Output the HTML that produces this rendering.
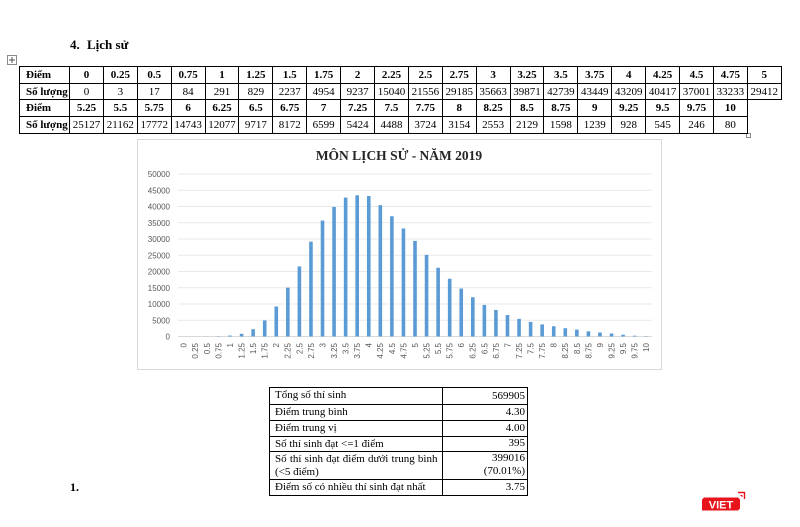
<!DOCTYPE html>
<html>
<head>
<meta charset="utf-8">
<style>
  html,body{margin:0;padding:0;background:#fff;}
  body{width:800px;height:527px;position:relative;overflow:hidden;font-family:"Liberation Serif",serif;color:#000;}
  .h{position:absolute;top:35px;font:bold 13px "Liberation Serif",serif;line-height:20px;white-space:nowrap;}
  .t1{position:absolute;left:19px;top:66px;border-collapse:collapse;table-layout:fixed;width:762px;font:11px "Liberation Serif",serif;}
  .t1 td{border:1px solid #000;padding:0;text-align:center;line-height:14px;white-space:nowrap;overflow:hidden;}
  .t1 tr{height:16.7px;}
  .t1 td.l{text-align:left;padding-left:6px;font-weight:bold;}
  .t1 tr.b td{font-weight:bold;}
  .t1 td.e{border:none;}
  .t2{position:absolute;left:269px;top:387px;border-collapse:collapse;table-layout:fixed;width:258px;font:11px "Liberation Serif",serif;}
  .t2 td{border:1px solid #000;padding:0;line-height:13px;white-space:nowrap;}
  .t2 td.a{padding-left:5px;vertical-align:top;padding-top:1px;}
  .t2 td.v{text-align:right;padding-right:2px;vertical-align:bottom;padding-bottom:1px;}
  .j{text-align:justify;text-align-last:justify;padding-right:4px;}
  svg{position:absolute;left:0;top:0;}
</style>
</head>
<body>
<svg width="800" height="527" viewBox="0 0 800 527" xmlns="http://www.w3.org/2000/svg">
  <!-- move icon -->
  <rect x="7.5" y="55.5" width="9" height="9" fill="#fff" stroke="#8a8a8a" stroke-width="1"/>
  <path d="M12 57 V63 M9 60 H15" stroke="#555" stroke-width="1"/>
  <!-- resize handle -->
  <rect x="746.5" y="133.5" width="4" height="4" fill="#fff" stroke="#8a8a8a" stroke-width="1"/>

  <!-- chart box -->
  <rect x="137.5" y="139.5" width="524" height="230" fill="#fff" stroke="#d9d9d9" stroke-width="1"/>
  <text x="399" y="160" text-anchor="middle" font-family="Liberation Serif, serif" font-weight="bold" font-size="13.5" fill="#262626">MÔN LỊCH SỬ - NĂM 2019</text>

  <!-- gridlines -->
  <g stroke="#e9e9e9" stroke-width="1">
    <line x1="178" y1="174" x2="652" y2="174"/>
    <line x1="178" y1="190.25" x2="652" y2="190.25"/>
    <line x1="178" y1="206.5" x2="652" y2="206.5"/>
    <line x1="178" y1="222.75" x2="652" y2="222.75"/>
    <line x1="178" y1="239" x2="652" y2="239"/>
    <line x1="178" y1="255.25" x2="652" y2="255.25"/>
    <line x1="178" y1="271.5" x2="652" y2="271.5"/>
    <line x1="178" y1="287.75" x2="652" y2="287.75"/>
    <line x1="178" y1="304" x2="652" y2="304"/>
    <line x1="178" y1="320.25" x2="652" y2="320.25"/>
  </g>
  <line x1="178" y1="336.5" x2="652" y2="336.5" stroke="#d9d9d9" stroke-width="1"/>

  <!-- y labels -->
  <g font-family="Liberation Sans, sans-serif" font-size="8" fill="#595959" text-anchor="end">
    <text x="170" y="177">50000</text>
    <text x="170" y="193.25">45000</text>
    <text x="170" y="209.5">40000</text>
    <text x="170" y="225.75">35000</text>
    <text x="170" y="242">30000</text>
    <text x="170" y="258.25">25000</text>
    <text x="170" y="274.5">20000</text>
    <text x="170" y="290.75">15000</text>
    <text x="170" y="307">10000</text>
    <text x="170" y="323.25">5000</text>
    <text x="170" y="339.5">0</text>
  </g>

  <!-- bars -->
  <g transform="translate(0,336.5) scale(1,-1)" fill="#5b9bd5">
    <rect x="193.54" y="0" width="3.6" height="0.01"/>
    <rect x="205.10" y="0" width="3.6" height="0.06"/>
    <rect x="216.66" y="0" width="3.6" height="0.27"/>
    <rect x="228.22" y="0" width="3.6" height="0.95"/>
    <rect x="239.79" y="0" width="3.6" height="2.69"/>
    <rect x="251.35" y="0" width="3.6" height="7.27"/>
    <rect x="262.91" y="0" width="3.6" height="16.10"/>
    <rect x="274.47" y="0" width="3.6" height="30.02"/>
    <rect x="286.03" y="0" width="3.6" height="48.88"/>
    <rect x="297.59" y="0" width="3.6" height="70.06"/>
    <rect x="309.15" y="0" width="3.6" height="94.85"/>
    <rect x="320.71" y="0" width="3.6" height="115.90"/>
    <rect x="332.27" y="0" width="3.6" height="129.58"/>
    <rect x="343.83" y="0" width="3.6" height="138.90"/>
    <rect x="355.40" y="0" width="3.6" height="141.21"/>
    <rect x="366.96" y="0" width="3.6" height="140.43"/>
    <rect x="378.52" y="0" width="3.6" height="131.36"/>
    <rect x="390.08" y="0" width="3.6" height="120.25"/>
    <rect x="401.64" y="0" width="3.6" height="108.01"/>
    <rect x="413.20" y="0" width="3.6" height="95.59"/>
    <rect x="424.76" y="0" width="3.6" height="81.66"/>
    <rect x="436.32" y="0" width="3.6" height="68.78"/>
    <rect x="447.88" y="0" width="3.6" height="57.76"/>
    <rect x="459.44" y="0" width="3.6" height="47.91"/>
    <rect x="471.01" y="0" width="3.6" height="39.25"/>
    <rect x="482.57" y="0" width="3.6" height="31.58"/>
    <rect x="494.13" y="0" width="3.6" height="26.56"/>
    <rect x="505.69" y="0" width="3.6" height="21.45"/>
    <rect x="517.25" y="0" width="3.6" height="17.63"/>
    <rect x="528.81" y="0" width="3.6" height="14.59"/>
    <rect x="540.37" y="0" width="3.6" height="12.10"/>
    <rect x="551.93" y="0" width="3.6" height="10.25"/>
    <rect x="563.49" y="0" width="3.6" height="8.30"/>
    <rect x="575.05" y="0" width="3.6" height="6.92"/>
    <rect x="586.62" y="0" width="3.6" height="5.19"/>
    <rect x="598.18" y="0" width="3.6" height="4.03"/>
    <rect x="609.74" y="0" width="3.6" height="3.02"/>
    <rect x="621.30" y="0" width="3.6" height="1.77"/>
    <rect x="632.86" y="0" width="3.6" height="0.80"/>
    <rect x="644.42" y="0" width="3.6" height="0.26"/>
  </g>

  <!-- x labels -->
  <g font-family="Liberation Sans, sans-serif" font-size="8" fill="#595959" text-anchor="end">
    <text transform="translate(186.68,343) rotate(-90)">0</text>
    <text transform="translate(198.24,343) rotate(-90)">0.25</text>
    <text transform="translate(209.80,343) rotate(-90)">0.5</text>
    <text transform="translate(221.36,343) rotate(-90)">0.75</text>
    <text transform="translate(232.92,343) rotate(-90)">1</text>
    <text transform="translate(244.49,343) rotate(-90)">1.25</text>
    <text transform="translate(256.05,343) rotate(-90)">1.5</text>
    <text transform="translate(267.61,343) rotate(-90)">1.75</text>
    <text transform="translate(279.17,343) rotate(-90)">2</text>
    <text transform="translate(290.73,343) rotate(-90)">2.25</text>
    <text transform="translate(302.29,343) rotate(-90)">2.5</text>
    <text transform="translate(313.85,343) rotate(-90)">2.75</text>
    <text transform="translate(325.41,343) rotate(-90)">3</text>
    <text transform="translate(336.97,343) rotate(-90)">3.25</text>
    <text transform="translate(348.53,343) rotate(-90)">3.5</text>
    <text transform="translate(360.10,343) rotate(-90)">3.75</text>
    <text transform="translate(371.66,343) rotate(-90)">4</text>
    <text transform="translate(383.22,343) rotate(-90)">4.25</text>
    <text transform="translate(394.78,343) rotate(-90)">4.5</text>
    <text transform="translate(406.34,343) rotate(-90)">4.75</text>
    <text transform="translate(417.90,343) rotate(-90)">5</text>
    <text transform="translate(429.46,343) rotate(-90)">5.25</text>
    <text transform="translate(441.02,343) rotate(-90)">5.5</text>
    <text transform="translate(452.58,343) rotate(-90)">5.75</text>
    <text transform="translate(464.14,343) rotate(-90)">6</text>
    <text transform="translate(475.71,343) rotate(-90)">6.25</text>
    <text transform="translate(487.27,343) rotate(-90)">6.5</text>
    <text transform="translate(498.83,343) rotate(-90)">6.75</text>
    <text transform="translate(510.39,343) rotate(-90)">7</text>
    <text transform="translate(521.95,343) rotate(-90)">7.25</text>
    <text transform="translate(533.51,343) rotate(-90)">7.5</text>
    <text transform="translate(545.07,343) rotate(-90)">7.75</text>
    <text transform="translate(556.63,343) rotate(-90)">8</text>
    <text transform="translate(568.19,343) rotate(-90)">8.25</text>
    <text transform="translate(579.75,343) rotate(-90)">8.5</text>
    <text transform="translate(591.32,343) rotate(-90)">8.75</text>
    <text transform="translate(602.88,343) rotate(-90)">9</text>
    <text transform="translate(614.44,343) rotate(-90)">9.25</text>
    <text transform="translate(626.00,343) rotate(-90)">9.5</text>
    <text transform="translate(637.56,343) rotate(-90)">9.75</text>
    <text transform="translate(649.12,343) rotate(-90)">10</text>
  </g>

  <!-- "1." -->
  <text x="70" y="491" font-family="Liberation Serif, serif" font-weight="bold" font-size="12" fill="#000">1.</text>

  <!-- VIET logo -->
  <polygon points="704,497.5 738,497.5 740,499.5 740,508.5 738,510.5 702,510.5 702,499.5" fill="#e8141c"/>
  <path d="M738 492.5 H744.5 V499" fill="none" stroke="#e8141c" stroke-width="1.4"/>
  <path d="M740.5 495.5 H742 V497" fill="none" stroke="#e8141c" stroke-width="1"/>
  <text x="721" y="508.5" text-anchor="middle" font-family="Liberation Sans, sans-serif" font-weight="bold" font-size="11" fill="#fff">VIET</text>
</svg>

<div class="h" style="left:70px;">4.</div>
<div class="h" style="left:87px;">Lịch sử</div>

<table class="t1">
  <colgroup>
    <col style="width:50px">
    <col style="width:33.9px"><col style="width:33.9px"><col style="width:33.9px"><col style="width:33.9px"><col style="width:33.9px"><col style="width:33.9px"><col style="width:33.9px">
    <col style="width:33.9px"><col style="width:33.9px"><col style="width:33.9px"><col style="width:33.9px"><col style="width:33.9px"><col style="width:33.9px"><col style="width:33.9px">
    <col style="width:33.9px"><col style="width:33.9px"><col style="width:33.9px"><col style="width:33.9px"><col style="width:33.9px"><col style="width:33.9px"><col style="width:33.9px">
  </colgroup>
  <tr class="b">
    <td class="l">Điểm</td><td>0</td><td>0.25</td><td>0.5</td><td>0.75</td><td>1</td><td>1.25</td><td>1.5</td><td>1.75</td><td>2</td><td>2.25</td><td>2.5</td><td>2.75</td><td>3</td><td>3.25</td><td>3.5</td><td>3.75</td><td>4</td><td>4.25</td><td>4.5</td><td>4.75</td><td>5</td>
  </tr>
  <tr>
    <td class="l">Số lượng</td><td>0</td><td>3</td><td>17</td><td>84</td><td>291</td><td>829</td><td>2237</td><td>4954</td><td>9237</td><td>15040</td><td>21556</td><td>29185</td><td>35663</td><td>39871</td><td>42739</td><td>43449</td><td>43209</td><td>40417</td><td>37001</td><td>33233</td><td>29412</td>
  </tr>
  <tr class="b">
    <td class="l">Điểm</td><td>5.25</td><td>5.5</td><td>5.75</td><td>6</td><td>6.25</td><td>6.5</td><td>6.75</td><td>7</td><td>7.25</td><td>7.5</td><td>7.75</td><td>8</td><td>8.25</td><td>8.5</td><td>8.75</td><td>9</td><td>9.25</td><td>9.5</td><td>9.75</td><td>10</td><td class="e"></td>
  </tr>
  <tr>
    <td class="l">Số lượng</td><td>25127</td><td>21162</td><td>17772</td><td>14743</td><td>12077</td><td>9717</td><td>8172</td><td>6599</td><td>5424</td><td>4488</td><td>3724</td><td>3154</td><td>2553</td><td>2129</td><td>1598</td><td>1239</td><td>928</td><td>545</td><td>246</td><td>80</td><td class="e"></td>
  </tr>
</table>

<table class="t2">
  <colgroup><col style="width:172.5px"><col style="width:85.5px"></colgroup>
  <tr style="height:16.5px"><td class="a">Tổng số thí sinh</td><td class="v">569905</td></tr>
  <tr style="height:16px"><td class="a">Điểm trung bình</td><td class="v">4.30</td></tr>
  <tr style="height:16px"><td class="a">Điểm trung vị</td><td class="v">4.00</td></tr>
  <tr style="height:15.5px"><td class="a">Số thí sinh đạt &lt;=1 điểm</td><td class="v">395</td></tr>
  <tr style="height:28px"><td class="a"><div class="j">Số thí sinh đạt điểm dưới trung bình</div><div>(&lt;5 điểm)</div></td><td class="v">399016<br>(70.01%)</td></tr>
  <tr style="height:16px"><td class="a">Điểm số có nhiều thí sinh đạt nhất</td><td class="v">3.75</td></tr>
</table>
</body>
</html>
